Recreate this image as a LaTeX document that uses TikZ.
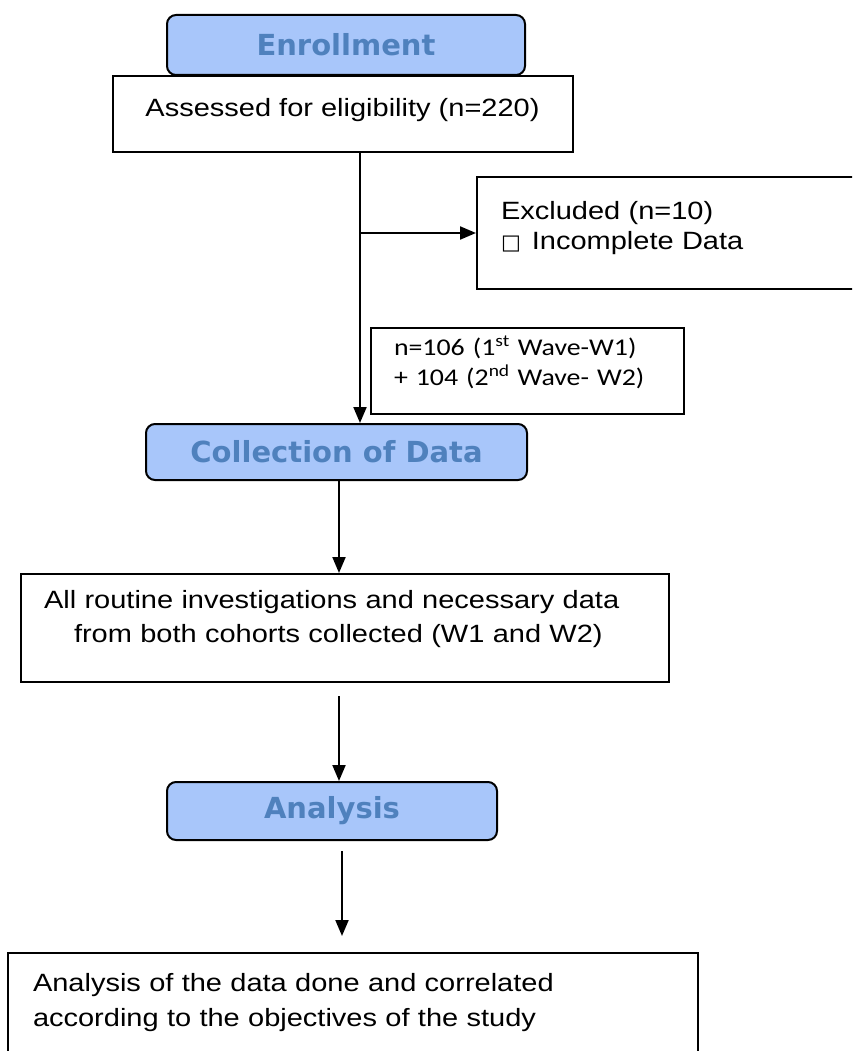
\documentclass[tikz,border=0pt]{standalone}
\usepackage{fontspec}
\setmainfont{Liberation Sans}[FakeStretch=1.16]
\newfontfamily\headfont{DejaVu Sans}
\newfontfamily\calfont{Carlito}[FakeStretch=1.16]
\newfontfamily\symfont{DejaVu Sans}
\usetikzlibrary{arrows.meta}

\definecolor{headfill}{RGB}{168,198,250}
\definecolor{headtext}{RGB}{79,129,189}

% extra room under the last line of a box
\newcommand{\padbelow}[1]{\rule[-#1]{0pt}{0pt}}

\tikzset{
  stage/.style={draw, line width=2pt, rounded corners=9pt, fill=headfill,
    text=headtext, inner sep=0pt,
    font=\headfont\bfseries\fontsize{29}{34}\selectfont},
  infobox/.style={draw, line width=2pt, fill=white, inner sep=0pt,
    font=\fontsize{25}{30}\selectfont},
  flow/.style={line width=2pt, -{Triangle[length=16pt,width=13pt]}},
}

\begin{document}
\begin{tikzpicture}[x=1pt,y=-1pt]
        % Page frame
        \useasboundingbox (0,0) rectangle (852,1051);
        \clip (0,0) rectangle (852,1051);
        % Enrollment
        \node [infobox, minimum width=460pt, minimum height=76pt] (assessed) at (342.5,114) {Assessed for eligibility (n=220)\padbelow{14pt}};
        \node [stage, minimum width=358pt, minimum height=60pt] (enroll) at (346,45) {Enrollment};
        \node [infobox, anchor=west, text width=380pt, inner xsep=24pt, minimum height=112pt, align=left] (excluded) at (476,233)
                {Excluded (n=10)\\{\symfont\fontsize{21}{24}\selectfont □}\hspace{11pt}Incomplete Data\padbelow{16pt}};
        \node [infobox, font=\calfont\fontsize{24}{30}\selectfont, anchor=west, text width=267pt, inner xsep=23pt, minimum height=86pt, align=left] (waves) at (370,371)
                {n=106 (1\textsuperscript{st} Wave-W1)\\+ 104 (2\textsuperscript{nd} Wave- W2)\padbelow{20pt}};
        % Collection of data
        \node [stage, minimum width=381pt, minimum height=56pt] (collect) at (336.5,452) {Collection of Data};
        \node [infobox, font=\fontsize{25}{34}\selectfont, anchor=west, text width=602pt, inner xsep=23pt, minimum height=108pt, align=left] (routine) at (20,628)
                {All routine investigations and necessary data\\\hspace*{30pt}from both cohorts collected (W1 and W2)\padbelow{24pt}};
        % Analysis
        \node [stage, minimum width=330pt, minimum height=58pt] (analysis) at (332,811) {Analysis};
        \node [infobox, font=\fontsize{25}{35}\selectfont, anchor=west, text width=640pt, inner xsep=25pt, minimum height=112pt, align=left] (final) at (7,1009)
                {Analysis of the data done and correlated\\according to the objectives of the study\padbelow{19pt}};
        % Connectors
        \coordinate (trunk) at (360,0);
        \coordinate (colA) at (339,0);
        \coordinate (colB) at (342,0);
        \draw [flow] (trunk |- assessed.south) -- (trunk |- collect.north);
        \draw [flow] (trunk |- excluded.west) -- (excluded.west);
        \draw [flow] (colA |- collect.south) -- (colA |- routine.north);
        \draw [flow, shorten <=13pt] (colA |- routine.south) -- (colA |- analysis.north);
        \draw [flow, shorten <=10pt, shorten >=16pt] (colB |- analysis.south) -- (colB |- final.north);
\end{tikzpicture}
\end{document}
